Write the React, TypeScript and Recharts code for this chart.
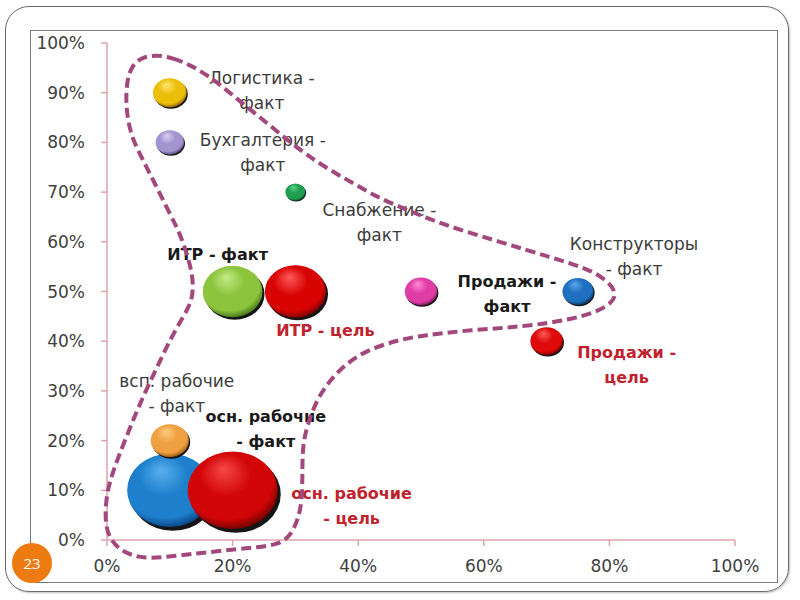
import React from 'react';
import { ScatterChart, Scatter, XAxis, YAxis, ZAxis } from 'recharts';

// bubble data: x = share (%), y = share (%), z = bubble size (listed in drawing order)
const names = [
  'Логистика - факт',
  'Бухгалтерия - факт',
  'Снабжение - факт',
  'ИТР - факт',
  'ИТР - цель',
  'Продажи - факт',
  'Конструкторы - факт',
  'Продажи - цель',
  'осн. рабочие - факт',
  'осн. рабочие - цель',
  'всп. рабочие - факт',
];
const labelLines = [
  ['Логистика -', 'факт'],
  ['Бухгалтерия -', 'факт'],
  ['Снабжение -', 'факт'],
  ['ИТР - факт'],
  ['ИТР - цель'],
  ['Продажи -', 'факт'],
  ['Конструкторы', '- факт'],
  ['Продажи -', 'цель'],
  ['осн. рабочие', '- факт'],
  ['осн. рабочие', '- цель'],
  ['всп. рабочие', '- факт'],
];
const xValues = [10, 10, 30, 20, 30, 50, 75, 70, 10, 20, 10];
const yValues = [90, 80, 70, 50, 50, 50, 50, 40, 10, 10, 20];
const bubbleSizes = [14, 10, 5, 44, 46, 13, 12, 13, 90, 100, 18];

const xTicks = [0, 20, 40, 60, 80, 100];
const yTicks = [0, 10, 20, 30, 40, 50, 60, 70, 80, 90, 100];

// hand-drawn dashed group outline, in axis units (%)
const outlineX = [
  8.0, 10.5, 13.2, 15.9, 19.1, 22.3, 25.5, 28.7, 31.8, 35.5, 39.2, 43.0, 46.7, 53.5, 62.6, 70.5,
  76.4, 79.6, 81.2, 80.4, 78.0, 73.7, 66.2, 58.3, 50.3, 46.2, 41.4, 38.2, 35.5, 33.4, 32.0, 31.2,
  31.1, 31.1, 30.4, 29.1, 27.1, 22.8, 14.8, 8.4, 5.3, 2.5, 0.8, -0.3, -0.2, 0.5, 1.8, 3.7, 5.7,
  8.0, 10.0, 12.1, 13.7, 13.7, 12.9, 11.6, 9.7, 7.6, 5.7, 4.1, 3.3, 3.0, 3.2, 4.0, 5.7,
];
const outlineY = [
  97.6, 97.0, 95.6, 93.6, 90.5, 87.1, 83.9, 80.5, 77.5, 74.4, 71.8, 69.0, 67.0, 63.4, 60.0, 56.9,
  54.7, 52.3, 49.7, 47.7, 45.9, 44.3, 42.9, 42.3, 41.2, 40.2, 38.2, 35.6, 32.2, 28.2, 23.5, 19.5,
  14.7, 8.0, 4.0, 0.6, -1.0, -1.6, -2.6, -3.6, -3.6, -2.4, -0.4, 2.6, 8.0, 12.1, 16.7, 22.7, 28.8,
  34.8, 40.2, 44.9, 48.3, 52.9, 56.9, 61.8, 66.4, 71.8, 76.5, 80.5, 84.5, 88.5, 92.6, 95.6, 97.2,
];

// sphere colours: highlight, base, edge
const sphereColors: [string, string, string][] = [
  ['#FFE870', '#EBBE0A', '#8A6400'],
  ['#D8D0F4', '#A294CE', '#4E4078'],
  ['#5FD48A', '#1E9E4E', '#08502A'],
  ['#C4EC86', '#8CC43E', '#44721A'],
  ['#FF5A5A', '#D80404', '#700000'],
  ['#FF8AD6', '#E03CA6', '#7C1458'],
  ['#5AA6EE', '#1F70C0', '#0A3468'],
  ['#FF5A5A', '#DE0A0A', '#700000'],
  ['#5AB0F0', '#1E80CC', '#0A4284'],
  ['#F84848', '#D20606', '#6C0000'],
  ['#FFCC82', '#EFA040', '#955810'],
];

const RED = '#C0222E';
// label placement relative to bubble centre (px)
const labelStyles = [
  { dx: 92, dy: -15, bold: false, color: '#3c3c3c' },
  { dx: 93, dy: -2, bold: false, color: '#3c3c3c' },
  { dx: 84, dy: 18, bold: false, color: '#3c3c3c' },
  { dx: -15, dy: -37, bold: true, color: '#1a1a1a' },
  { dx: 30, dy: 39, bold: true, color: RED },
  { dx: 86, dy: -10, bold: true, color: '#1a1a1a' },
  { dx: 56, dy: -48, bold: false, color: '#3c3c3c' },
  { dx: 80, dy: 11, bold: true, color: RED },
  { dx: 96, dy: -74, bold: true, color: '#1a1a1a' },
  { dx: 119, dy: 3, bold: true, color: RED },
  { dx: 7, dy: -60, bold: false, color: '#3c3c3c' },
];

const bubbles = names.map((name, i) => ({
  name,
  idx: i,
  x: xValues[i],
  y: yValues[i],
  z: bubbleSizes[i],
}));

const outline = outlineX.map((x, i) => ({ x, y: outlineY[i] }));

const MAX_R = 45;
const SQUASH = 0.86;
const AXIS_COLOR = '#DDA3AB';
const FONT = '"DejaVu Sans", Verdana, sans-serif';

const Bubble = (props: any) => {
  const { cx, cy, payload } = props;
  const r = props.width ? props.width / 2 : Math.sqrt(props.size / Math.PI);
  const ry = r * SQUASH;
  const [light, base, dark] = sphereColors[payload.idx];
  const id = `sphere-${payload.idx}`;
  return (
    <g>
      <defs>
        <radialGradient id={id} cx="0.45" cy="0.4" r="0.62" fx="0.4" fy="0.22">
          <stop offset="0%" stopColor={light} />
          <stop offset="45%" stopColor={base} />
          <stop offset="82%" stopColor={base} />
          <stop offset="100%" stopColor={dark} />
        </radialGradient>
      </defs>
      <ellipse cx={cx + r * 0.07} cy={cy + ry * 0.1} rx={r} ry={ry} fill="#161616" />
      <ellipse cx={cx} cy={cy} rx={r} ry={ry} fill={`url(#${id})`} />
    </g>
  );
};

const BubbleLabel = (props: any) => {
  const { cx, cy, payload } = props;
  const st = labelStyles[payload.idx];
  const lines = labelLines[payload.idx];
  return (
    <g>
      {lines.map((line, k) => (
        <text
          key={k}
          x={cx + st.dx}
          y={cy + st.dy + k * 25}
          textAnchor="middle"
          dominantBaseline="central"
          fontFamily={FONT}
          fontSize={st.bold ? 16 : 17}
          fontWeight={st.bold ? 'bold' : 'normal'}
          fill={st.color}
        >
          {line}
        </text>
      ))}
    </g>
  );
};

const tickStyle = { fontFamily: FONT, fontSize: 17, fill: '#404040' };

export default function App() {
  return (
    <div
      style={{
        position: 'absolute',
        left: 0,
        top: 0,
        width: 800,
        height: 600,
        background: '#ffffff',
        overflow: 'hidden',
      }}
    >
      <style>{`.no-clip { clip-path: none; }`}</style>
      <div
        style={{
          position: 'absolute',
          left: 5,
          top: 6,
          width: 782,
          height: 584,
          border: '1.5px solid #6a6a6a',
          borderRadius: 24,
          boxShadow: '1px 1px 2px rgba(0,0,0,0.25)',
        }}
      />
      <div
        style={{
          position: 'absolute',
          left: 30,
          top: 30,
          width: 746,
          height: 551,
          border: '1.5px solid #7a7a7a',
        }}
      />
      <div style={{ position: 'absolute', left: 0, top: 0 }}>
        <ScatterChart width={800} height={600} margin={{ top: 43, right: 65, bottom: 30, left: 47 }}>
          <XAxis
            type="number"
            dataKey="x"
            domain={[0, 100]}
            ticks={xTicks}
            allowDataOverflow
            height={30}
            tickFormatter={(v: number) => `${v}%`}
            tick={tickStyle}
            tickSize={6}
            tickMargin={14}
            axisLine={{ stroke: AXIS_COLOR, strokeWidth: 1.5 }}
            tickLine={{ stroke: AXIS_COLOR, strokeWidth: 1.5 }}
          />
          <YAxis
            type="number"
            dataKey="y"
            domain={[0, 100]}
            ticks={yTicks}
            allowDataOverflow
            width={60}
            tickFormatter={(v: number) => `${v}%`}
            tick={tickStyle}
            tickSize={6}
            tickMargin={16}
            axisLine={{ stroke: AXIS_COLOR, strokeWidth: 1.5 }}
            tickLine={{ stroke: AXIS_COLOR, strokeWidth: 1.5 }}
          />
          <ZAxis type="number" dataKey="z" domain={[0, 100]} range={[0, Math.PI * MAX_R * MAX_R]} />
          <Scatter data={bubbles} shape={Bubble} isAnimationActive={false} />
          <Scatter data={bubbles} shape={BubbleLabel} isAnimationActive={false} />
          <Scatter
            className="no-clip"
            data={outline}
            shape={() => <g />}
            line={{ stroke: '#A2487C', strokeWidth: 4, strokeDasharray: '10 5', fill: 'none' }}
            lineJointType="basisClosed"
            isAnimationActive={false}
          />
        </ScatterChart>
      </div>
      <div
        style={{
          position: 'absolute',
          left: 12,
          top: 543,
          width: 40,
          height: 40,
          borderRadius: '50%',
          background: '#EE7A12',
          color: '#ffffff',
          fontFamily: '"Open Sans", sans-serif',
          fontSize: 15,
          lineHeight: '40px',
          textAlign: 'center',
        }}
      >
        23
      </div>
    </div>
  );
}
